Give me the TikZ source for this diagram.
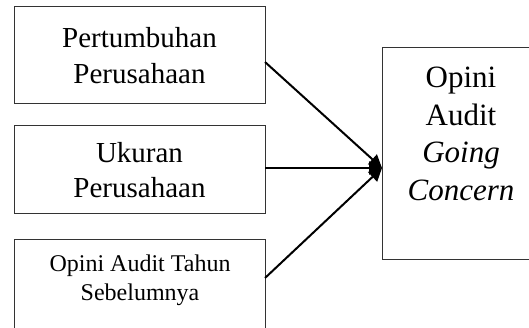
\documentclass[tikz,border=0pt]{standalone}
\usepackage{fontspec}
\setmainfont{Liberation Serif}
\usetikzlibrary{arrows.meta}
\begin{document}
\begin{tikzpicture}[x=1pt,y=-1pt,
  boxstyle/.style={draw=black!80,line width=1pt,rectangle,inner sep=0pt},
  conn/.style={line width=2pt,-{Triangle[length=13pt,width=13pt]}},
  bigtext/.style={font=\fontsize{29}{35.5}\selectfont,align=center},
  righttext/.style={font=\fontsize{31}{37.4}\selectfont,align=center},
  smalltext/.style={font=\fontsize{24}{28.7}\selectfont,align=center}]
\useasboundingbox (0,0) rectangle (529,328);
\clip (0,0) rectangle (529,328);
\fill[white] (0,0) rectangle (529,328);
\node[boxstyle,bigtext,minimum width=251pt,minimum height=97pt] (b1) at (139.5,55.5) {Pertumbuhan\\Perusahaan};
\node[boxstyle,bigtext,minimum width=251pt,minimum height=88pt] (b2) at (139.5,170) {Ukuran\\Perusahaan};
\node[boxstyle,minimum width=251pt,minimum height=120pt,anchor=north west] (b3) at (14,239) {};
\node[smalltext,inner sep=0pt] (b3t) at (140,280) {Opini Audit Tahun\\Sebelumnya};
\node[boxstyle,minimum width=158pt,minimum height=211pt] (r) at (461,153.5) {};
\node[righttext,inner sep=0pt] (rt) at (461,133.8) {Opini\\Audit\\\textit{Going}\\\textit{Concern}};
\coordinate (t) at (382,168);
\coordinate (s1) at (265,62);
\coordinate (s2) at (265,168);
\coordinate (s3) at (265,278);
\draw[conn] (s1) -- (t);
\draw[conn] (s2) -- (t);
\draw[conn] (s3) -- (t);
\end{tikzpicture}
\end{document}
